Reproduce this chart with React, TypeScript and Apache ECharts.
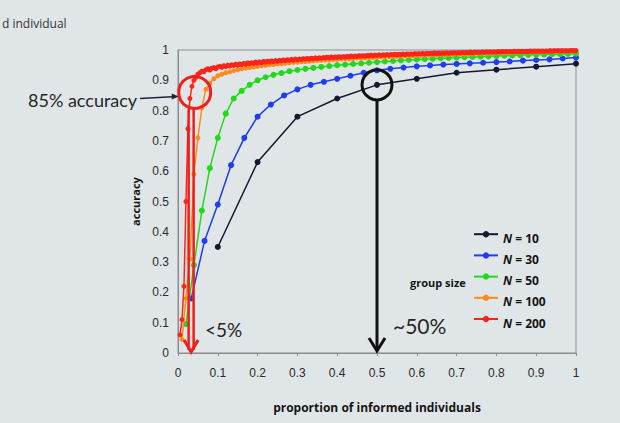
import React, { useEffect, useRef } from "react";
import * as echarts from "echarts";

// ---- data ----
const seriesNames = ["N = 10", "N = 30", "N = 50", "N = 100", "N = 200"];
const seriesColors = ["#15182e", "#1f3cf5", "#22d81c", "#ff8a1c", "#ff2418"];
const groupSizes = [10, 30, 50, 100, 200];

// N = 10, x = 0.1 .. 1.0
const acc10 = [0.35, 0.63, 0.78, 0.84, 0.885, 0.905, 0.925, 0.935, 0.945, 0.955];
// N = 30, x = k/30
const acc30 = [
  0.18, 0.37, 0.49, 0.62, 0.71, 0.78, 0.82, 0.85, 0.87, 0.885,
  0.895, 0.905, 0.915, 0.925, 0.933, 0.938, 0.942, 0.946, 0.949, 0.952,
  0.954, 0.956, 0.958, 0.96, 0.962, 0.965, 0.967, 0.969, 0.972, 0.975,
];
// N = 50, x = k/50
const acc50 = [
  0.095, 0.29, 0.47, 0.61, 0.71, 0.79, 0.84, 0.865, 0.885, 0.9,
  0.91, 0.918, 0.924, 0.93, 0.934, 0.938, 0.941, 0.944, 0.947, 0.95,
  0.952, 0.954, 0.956, 0.958, 0.96, 0.962, 0.964, 0.966, 0.967, 0.969,
  0.97, 0.971, 0.973, 0.974, 0.975, 0.976, 0.977, 0.978, 0.979, 0.98,
  0.981, 0.982, 0.983, 0.984, 0.984, 0.985, 0.986, 0.986, 0.987, 0.988,
];
// N = 100, x = k/100
const acc100 = [
  0.045, 0.18, 0.31, 0.59, 0.71, 0.81, 0.87, 0.89, 0.905, 0.915,
  0.92, 0.925, 0.928, 0.932, 0.935, 0.938, 0.94, 0.942, 0.944, 0.946,
  0.948, 0.949, 0.951, 0.952, 0.954, 0.955, 0.956, 0.958, 0.959, 0.96,
  0.961, 0.962, 0.963, 0.964, 0.965, 0.966, 0.967, 0.967, 0.968, 0.969,
  0.97, 0.971, 0.971, 0.972, 0.973, 0.973, 0.974, 0.975, 0.975, 0.976,
  0.977, 0.977, 0.978, 0.978, 0.979, 0.98, 0.98, 0.981, 0.981, 0.982,
  0.982, 0.983, 0.983, 0.984, 0.984, 0.985, 0.985, 0.986, 0.986, 0.987,
  0.987, 0.987, 0.988, 0.988, 0.989, 0.989, 0.99, 0.99, 0.99, 0.991,
  0.991, 0.991, 0.992, 0.992, 0.992, 0.993, 0.993, 0.993, 0.994, 0.994,
  0.994, 0.995, 0.995, 0.995, 0.996, 0.996, 0.996, 0.997, 0.997, 0.997,
];
// N = 200, x = k/200
const acc200 = [
  0.06, 0.11, 0.22, 0.5, 0.74, 0.84, 0.88, 0.9, 0.91, 0.92,
  0.925, 0.93, 0.928, 0.935, 0.938, 0.934, 0.94, 0.942, 0.938, 0.944,
  0.946, 0.943, 0.948, 0.945, 0.95, 0.947, 0.951, 0.949, 0.953, 0.95,
  0.954, 0.952, 0.956, 0.953, 0.957, 0.955, 0.958, 0.956, 0.96, 0.957,
  0.961, 0.958, 0.962, 0.96, 0.963, 0.961, 0.964, 0.962, 0.965, 0.963,
  0.966, 0.964, 0.967, 0.965, 0.968, 0.966, 0.969, 0.967, 0.97, 0.968,
  0.97, 0.969, 0.971, 0.97, 0.972, 0.97, 0.973, 0.971, 0.974, 0.972,
  0.974, 0.973, 0.975, 0.974, 0.976, 0.974, 0.977, 0.975, 0.977, 0.976,
  0.978, 0.976, 0.978, 0.977, 0.979, 0.978, 0.98, 0.978, 0.98, 0.979,
  0.981, 0.98, 0.981, 0.98, 0.982, 0.981, 0.983, 0.981, 0.983, 0.982,
  0.984, 0.982, 0.984, 0.983, 0.985, 0.983, 0.985, 0.984, 0.986, 0.984,
  0.986, 0.985, 0.987, 0.985, 0.987, 0.986, 0.987, 0.986, 0.988, 0.987,
  0.988, 0.987, 0.989, 0.987, 0.989, 0.988, 0.989, 0.988, 0.99, 0.988,
  0.99, 0.989, 0.99, 0.989, 0.991, 0.989, 0.991, 0.99, 0.991, 0.99,
  0.992, 0.99, 0.992, 0.991, 0.992, 0.991, 0.993, 0.991, 0.993, 0.992,
  0.993, 0.992, 0.994, 0.992, 0.994, 0.993, 0.994, 0.993, 0.994, 0.993,
  0.995, 0.993, 0.995, 0.994, 0.995, 0.994, 0.995, 0.994, 0.996, 0.994,
  0.996, 0.995, 0.996, 0.995, 0.996, 0.995, 0.997, 0.995, 0.997, 0.996,
  0.997, 0.996, 0.997, 0.996, 0.997, 0.996, 0.998, 0.996, 0.998, 0.997,
  0.998, 0.997, 0.998, 0.997, 0.998, 0.997, 0.998, 0.998, 0.998, 0.998,
];
const allAcc = [acc10, acc30, acc50, acc100, acc200];

const xTickLabels = ["0", "0.1", "0.2", "0.3", "0.4", "0.5", "0.6", "0.7", "0.8", "0.9", "1"];
const yTickLabels = ["0", "0.1", "0.2", "0.3", "0.4", "0.5", "0.6", "0.7", "0.8", "0.9", "1"];

export default function App() {
  const ref = useRef<HTMLDivElement>(null);

  useEffect(() => {
    if (!ref.current) return;
    const chart = echarts.init(ref.current, null, { renderer: "svg" });

    const series = allAcc.map((vals, si) => ({
      type: "line",
      name: seriesNames[si],
      data: vals.map((v, i) => [(i + 1) / groupSizes[si], v]),
      symbol: "circle",
      symbolSize: si >= 3 ? 5 : 6,
      showSymbol: true,
      lineStyle: { color: seriesColors[si], width: 1.5 },
      itemStyle: { color: seriesColors[si] },
      z: 2 + si,
    }));

    const axisFont = "Liberation Sans, Arial, sans-serif";
    const option: any = {
      animation: false,
      backgroundColor: "#e0e6e7",
      grid: {
        left: 178,
        right: 44,
        top: 50,
        bottom: 70,
        show: true,
        borderColor: "#8a8d8f",
        borderWidth: 1,
      },
      xAxis: {
        type: "value",
        min: 0,
        max: 1,
        interval: 0.1,
        axisLine: { show: true, lineStyle: { color: "#8a8d8f", width: 1 } },
        axisTick: { show: true, length: 3, lineStyle: { color: "#8a8d8f" } },
        splitLine: { show: false },
        axisLabel: {
          color: "#2a2a2a",
          fontSize: 12,
          fontFamily: axisFont,
          margin: 14,
          formatter: (v: number) => xTickLabels[Math.round(v * 10)] ?? "",
        },
        name: "proportion of informed individuals",
        nameLocation: "middle",
        nameGap: 48,
        nameTextStyle: { fontWeight: "bold", fontSize: 12, color: "#151515", fontFamily: "Open Sans, sans-serif" },
      },
      yAxis: {
        type: "value",
        min: 0,
        max: 1,
        interval: 0.1,
        axisLine: { show: true, lineStyle: { color: "#8a8d8f", width: 1 } },
        axisTick: { show: false },
        splitLine: { show: false },
        axisLabel: {
          color: "#2a2a2a",
          fontSize: 12,
          fontFamily: axisFont,
          margin: 9,
          formatter: (v: number) => yTickLabels[Math.round(v * 10)] ?? "",
        },
        name: "accuracy",
        nameLocation: "middle",
        nameGap: 34,
        nameRotate: 90,
        nameTextStyle: { fontWeight: "bold", fontSize: 11, color: "#151515", fontFamily: "Open Sans, sans-serif" },
      },
      legend: {
        orient: "vertical",
        left: 468,
        top: 226,
        itemWidth: 24,
        itemHeight: 8,
        itemGap: 8,
        data: seriesNames,
        formatter: (name: string) => "{i|N}{t|" + name.slice(1) + "}",
        textStyle: {
          color: "#151515",
          fontSize: 12,
          fontWeight: "bold",
          fontFamily: "Open Sans, sans-serif",
          padding: [8, 0, 0, 0],
          rich: {
            i: { fontStyle: "italic", fontWeight: "bold", fontSize: 12, color: "#151515", fontFamily: "Open Sans, sans-serif" },
            t: { fontWeight: "bold", fontSize: 12, color: "#151515", fontFamily: "Open Sans, sans-serif" },
          },
        },
      },
      series,
    };
    chart.setOption(option);

    const px = (x: number, y: number) => chart.convertToPixel({ gridIndex: 0 }, [x, y]) as number[];
    const base = px(0, 0);
    const y0 = base[1];

    const red = "#ee1f1a";
    const dark = "#111";
    const rc = px(0.042, 0.86);
    const bc = px(0.5, acc10[4]);
    const rArrowX = px(0.033, 0)[0];
    const annY = rc[1] + 8;

    const graphic: any[] = [
      // partial slide title at top-left
      {
        type: "text",
        x: 2,
        y: 17,
        style: { text: "d individual", fontSize: 12, fill: "#333", fontFamily: "Open Sans, sans-serif" },
      },
      // 85% accuracy annotation
      {
        type: "text",
        x: 28,
        y: annY,
        style: {
          text: "85% accuracy",
          fontSize: 18,
          fill: "#262626",
          fontFamily: "Lato, sans-serif",
          verticalAlign: "middle",
        },
      },
      {
        type: "line",
        shape: { x1: 140, y1: annY - 2, x2: rc[0] - 18, y2: annY - 4 },
        style: { stroke: "#223", lineWidth: 1.5 },
      },
      {
        type: "polygon",
        shape: { points: [[rc[0] - 16, annY - 4], [rc[0] - 23, annY - 7], [rc[0] - 23, annY - 1]] },
        style: { fill: "#223" },
      },
      // red circle and arrow
      {
        type: "circle",
        shape: { cx: rc[0], cy: rc[1], r: 16 },
        style: { fill: "none", stroke: red, lineWidth: 3 },
        z: 20,
      },
      {
        type: "line",
        shape: { x1: rArrowX - 2.5, y1: rc[1] + 16, x2: rArrowX - 2.5, y2: y0 - 3 },
        style: { stroke: red, lineWidth: 2.5 },
        z: 20,
      },
      {
        type: "line",
        shape: { x1: rArrowX + 2.5, y1: rc[1] + 16, x2: rArrowX + 2.5, y2: y0 - 3 },
        style: { stroke: red, lineWidth: 2.5 },
        z: 20,
      },
      {
        type: "polyline",
        shape: { points: [[rArrowX - 7, y0 - 13], [rArrowX, y0 - 1], [rArrowX + 7, y0 - 13]] },
        style: { stroke: red, lineWidth: 3, fill: "none" },
        z: 20,
      },
      {
        type: "text",
        x: 205,
        y: y0 - 24,
        style: { text: "<5%", fontSize: 19, fill: "#262626", fontFamily: "Lato, sans-serif", verticalAlign: "middle" },
        z: 20,
      },
      // black circle and arrow
      {
        type: "circle",
        shape: { cx: bc[0], cy: bc[1], r: 15 },
        style: { fill: "none", stroke: dark, lineWidth: 3 },
        z: 20,
      },
      {
        type: "line",
        shape: { x1: bc[0], y1: bc[1] + 15, x2: bc[0], y2: y0 - 2 },
        style: { stroke: dark, lineWidth: 3 },
        z: 20,
      },
      {
        type: "polyline",
        shape: { points: [[bc[0] - 8, y0 - 15], [bc[0], y0 - 2], [bc[0] + 8, y0 - 15]] },
        style: { stroke: dark, lineWidth: 3, fill: "none" },
        z: 20,
      },
      {
        type: "text",
        x: bc[0] + 16,
        y: y0 - 28,
        style: { text: "~50%", fontSize: 21, fill: "#262626", fontFamily: "Lato, sans-serif", verticalAlign: "middle" },
        z: 20,
      },
      // legend title
      {
        type: "text",
        x: 410,
        y: 282,
        style: {
          text: "group size",
          fontSize: 11,
          fontWeight: "bold",
          fill: "#151515",
          fontFamily: "Open Sans, sans-serif",
          verticalAlign: "middle",
        },
      },
    ];
    chart.setOption({ graphic });

    return () => chart.dispose();
  }, []);

  return <div ref={ref} style={{ position: "fixed", left: 0, top: 0, width: 620, height: 423 }} />;
}
